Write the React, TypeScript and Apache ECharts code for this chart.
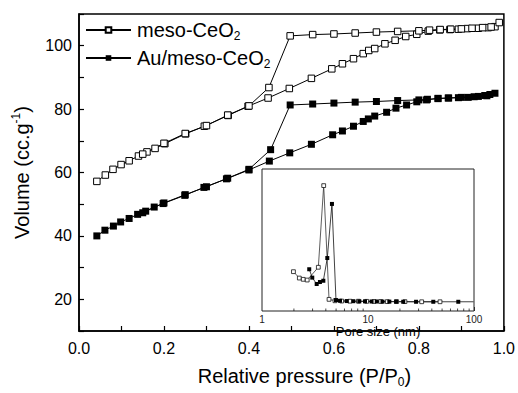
import React, { useEffect, useRef } from 'react';
import * as echarts from 'echarts';

// ---- Main isotherm data ----
const mesoAdsX = [0.042, 0.062, 0.080, 0.099, 0.118, 0.140, 0.160, 0.179, 0.202, 0.251, 0.295, 0.351, 0.398, 0.445, 0.495, 0.547, 0.595, 0.620, 0.646, 0.669, 0.682, 0.696, 0.720, 0.744, 0.769, 0.795, 0.822, 0.849, 0.873, 0.893, 0.914, 0.940, 0.963, 0.979, 0.989];
const mesoAdsY = [57.2, 59.2, 61.0, 62.5, 63.7, 65.2, 66.5, 67.6, 69.1, 72.2, 74.6, 78.0, 80.9, 83.5, 86.5, 89.7, 92.7, 94.3, 95.9, 97.5, 98.5, 99.1, 100.6, 101.7, 102.9, 103.6, 104.6, 105.0, 105.1, 105.2, 105.4, 105.5, 105.7, 106.0, 107.3];
const mesoDesX = [0.970, 0.950, 0.925, 0.900, 0.875, 0.850, 0.825, 0.800, 0.750, 0.700, 0.650, 0.600, 0.550, 0.497, 0.447, 0.400, 0.350, 0.300, 0.250, 0.200, 0.150];
const mesoDesY = [105.9, 105.7, 105.5, 105.3, 105.2, 105.1, 104.9, 104.7, 104.5, 104.3, 104.0, 103.7, 103.5, 103.1, 86.8, 81.0, 78.1, 74.8, 72.3, 69.2, 65.8];

const auAdsX = [0.042, 0.061, 0.081, 0.098, 0.118, 0.138, 0.157, 0.177, 0.198, 0.249, 0.294, 0.347, 0.400, 0.448, 0.496, 0.547, 0.597, 0.620, 0.646, 0.669, 0.681, 0.696, 0.724, 0.746, 0.771, 0.795, 0.818, 0.845, 0.869, 0.893, 0.916, 0.940, 0.955, 0.967, 0.979];
const auAdsY = [40.0, 41.8, 43.1, 44.4, 45.5, 46.8, 47.8, 49.1, 50.2, 52.8, 55.3, 58.0, 60.8, 63.6, 66.2, 68.9, 71.9, 73.1, 74.6, 76.1, 76.9, 77.8, 79.0, 80.3, 81.3, 82.3, 82.9, 83.4, 83.5, 83.6, 83.7, 84.0, 84.3, 84.6, 85.0];
const auDesX = [0.960, 0.930, 0.900, 0.870, 0.845, 0.820, 0.800, 0.750, 0.700, 0.650, 0.600, 0.550, 0.497, 0.451, 0.400, 0.350, 0.300, 0.250, 0.200, 0.150];
const auDesY = [84.2, 83.9, 83.7, 83.5, 83.3, 83.1, 82.9, 82.7, 82.4, 82.2, 81.9, 81.6, 81.3, 67.2, 61.0, 58.2, 55.5, 53.0, 50.4, 47.3];

// ---- Inset pore-size distribution data ----
const insetMesoX = [1.98, 2.25, 2.45, 2.67, 3.40, 3.82, 4.29, 4.88, 5.65, 6.76, 8.11, 9.72, 11.4, 13.2, 15.2, 18.6, 22.3, 32.1, 47.8];
const insetMesoY = [27.7, 23.2, 22.3, 21.8, 30.8, 88.3, 8.2, 7.2, 7.0, 6.9, 6.9, 6.8, 6.7, 6.7, 6.6, 6.6, 6.6, 6.5, 6.5];
const insetAuX = [2.79, 2.98, 3.28, 3.52, 3.79, 4.13, 4.57, 4.99, 5.44, 6.30, 7.27, 8.28, 9.37, 10.8, 12.1, 13.7, 15.9, 18.4, 21.5, 28.4, 41.3, 71.1];
const insetAuY = [29.4, 23.5, 19.0, 20.4, 21.3, 37.3, 75.4, 7.7, 7.2, 7.0, 6.9, 6.8, 6.8, 6.7, 6.7, 6.6, 6.6, 6.6, 6.5, 6.5, 6.5, 6.5];
const insetMinorTicks = [2, 3, 4, 5, 6, 7, 8, 9, 20, 30, 40, 50, 60, 70, 80, 90];

// ---- Tick labels ----
const xTickLabels = ['0.0', '0.2', '0.4', '0.6', '0.8', '1.0'];
const yTickLabels = ['20', '40', '60', '80', '100'];

const FONT = '"Liberation Sans", Arial, sans-serif';

const pairs = (xs: number[], ys: number[]) => xs.map((x, i) => [x, ys[i]]);

export default function App() {
  const ref = useRef<HTMLDivElement>(null);

  useEffect(() => {
    if (!ref.current) return;
    const chart = echarts.init(ref.current, undefined, { renderer: 'svg' });

    const mesoData = [...pairs(mesoAdsX, mesoAdsY), ...pairs(mesoDesX, mesoDesY)];
    const auData = [...pairs(auAdsX, auAdsY), ...pairs(auDesX, auDesY)];

    const legendRich = {
      a: { fontSize: 20, lineHeight: 24, fontFamily: FONT, color: '#000', padding: [0, 0, 0, 1] },
      s: { fontSize: 12, lineHeight: 12, fontFamily: FONT, color: '#000', verticalAlign: 'bottom', padding: [3, 0, 0, 0] },
    };

    const option: any = {
      animation: false,
      backgroundColor: '#fff',
      textStyle: { fontFamily: FONT },
      legend: {
        data: ['meso-CeO2', 'Au/meso-CeO2'],
        orient: 'vertical',
        left: 85,
        top: 20,
        padding: 0,
        itemWidth: 45,
        itemHeight: 7,
        itemGap: 6,
        formatter: (name: string) =>
          name === 'meso-CeO2' ? '{a|meso-CeO}{s|2}' : '{a|Au/meso-CeO}{s|2}',
        textStyle: { rich: legendRich },
      },
      grid: [
        {
          left: 79, right: 14, top: 14, bottom: 59,
          show: true, borderColor: '#000', borderWidth: 1.5, backgroundColor: 'transparent',
        },
        {
          left: 262, top: 169, width: 212, height: 142,
          show: true, borderColor: '#222', borderWidth: 1, backgroundColor: '#fff',
          z: 3,
        },
      ],
      xAxis: [
        {
          type: 'value', gridIndex: 0, min: 0, max: 1, interval: 0.1,
          axisLine: { show: true, lineStyle: { color: '#000', width: 1.5 } },
          axisTick: { show: true, inside: true, length: 5, lineStyle: { color: '#000', width: 1.2 } },
          splitLine: { show: false },
          axisLabel: {
            margin: 9, fontSize: 16, color: '#000', fontFamily: FONT,
            formatter: (v: number) => {
              const s = v.toFixed(1);
              return xTickLabels.includes(s) ? s : '';
            },
          },
          name: 'Relative pressure (P/P{s|0})',
          nameLocation: 'middle',
          nameGap: 33,
          nameTextStyle: {
            padding: [0, 0, 0, 26],
            rich: {
              s: { fontSize: 12, lineHeight: 12, fontFamily: FONT, color: '#000', verticalAlign: 'bottom' },
            },
            fontSize: 20, lineHeight: 24, color: '#000', fontFamily: FONT,
          },
        },
        {
          type: 'log', gridIndex: 1, min: 1, max: 100, logBase: 10,
          axisLine: { show: false },
          axisTick: { show: true, inside: true, length: 4, lineStyle: { color: '#000', width: 0.8 } },
          splitLine: { show: false },
          axisLabel: { margin: 3, fontSize: 10, color: '#222', fontFamily: FONT },
          name: 'Pore size (nm)',
          nameLocation: 'middle',
          nameGap: 7,
          nameTextStyle: { fontSize: 13, color: '#000', fontFamily: FONT, padding: [0, 0, 0, 20] },
        },
      ],
      yAxis: [
        {
          type: 'value', gridIndex: 0, min: 10, max: 110, interval: 10,
          axisLine: { show: true, lineStyle: { color: '#000', width: 1.5 } },
          axisTick: { show: true, inside: true, length: 5, lineStyle: { color: '#000', width: 1.2 } },
          splitLine: { show: false },
          axisLabel: {
            margin: 7, fontSize: 16, color: '#000', fontFamily: FONT,
            formatter: (v: number) => (yTickLabels.includes(String(v)) ? String(v) : ''),
          },
          name: 'Volume (cc.g{sup|-1})',
          nameLocation: 'middle',
          nameGap: 44,
          nameTextStyle: {
            fontSize: 20, lineHeight: 24, color: '#000', fontFamily: FONT,
            rich: {
              sup: { fontSize: 12, lineHeight: 12, fontFamily: FONT, color: '#000', verticalAlign: 'top' },
            },
          },
        },
        {
          type: 'value', gridIndex: 1, min: 0, max: 100,
          axisLine: { show: false }, axisTick: { show: false }, axisLabel: { show: false },
          splitLine: { show: false },
        },
      ],
      series: [
        {
          name: 'meso-CeO2', type: 'line', xAxisIndex: 0, yAxisIndex: 0,
          data: mesoData, symbol: 'rect', symbolSize: 6.5,
          lineStyle: { color: '#000', width: 1 },
          itemStyle: { color: '#fff', borderColor: '#000', borderWidth: 1 },
          z: 4,
        },
        {
          name: 'Au/meso-CeO2', type: 'line', xAxisIndex: 0, yAxisIndex: 0,
          data: auData, symbol: 'rect', symbolSize: 7,
          lineStyle: { color: '#000', width: 1 },
          itemStyle: { color: '#000', borderColor: '#000', borderWidth: 0 },
          z: 4,
        },
        {
          name: 'inset-meso', type: 'line', xAxisIndex: 1, yAxisIndex: 1,
          data: pairs(insetMesoX, insetMesoY), symbol: 'rect', symbolSize: 3.8,
          lineStyle: { color: '#333', width: 0.8 },
          itemStyle: { color: '#fff', borderColor: '#111', borderWidth: 0.8 },
          z: 5,
        },
        {
          name: 'inset-au', type: 'line', xAxisIndex: 1, yAxisIndex: 1,
          data: [...pairs(insetAuX, insetAuY), { value: [99, 6.5], symbolSize: 0 }],
          symbol: 'rect', symbolSize: 4,
          lineStyle: { color: '#111', width: 0.8 },
          itemStyle: { color: '#000' },
          z: 5,
        },
        {
          name: 'inset-minor-ticks', type: 'custom', xAxisIndex: 1, yAxisIndex: 1,
          data: insetMinorTicks.map((v) => [v, 0]),
          silent: true, z: 6,
          renderItem: (_p: any, api: any) => {
            const p = api.coord([api.value(0), 0]);
            return {
              type: 'line',
              shape: { x1: p[0], y1: p[1], x2: p[0], y2: p[1] - 2.5 },
              style: { stroke: '#000', lineWidth: 0.7 },
            };
          },
        },
      ],
    };

    chart.setOption(option);
    return () => chart.dispose();
  }, []);

  return (
    <div
      ref={ref}
      style={{ position: 'fixed', left: 0, top: 0, width: 518, height: 393, background: '#fff' }}
    />
  );
}
